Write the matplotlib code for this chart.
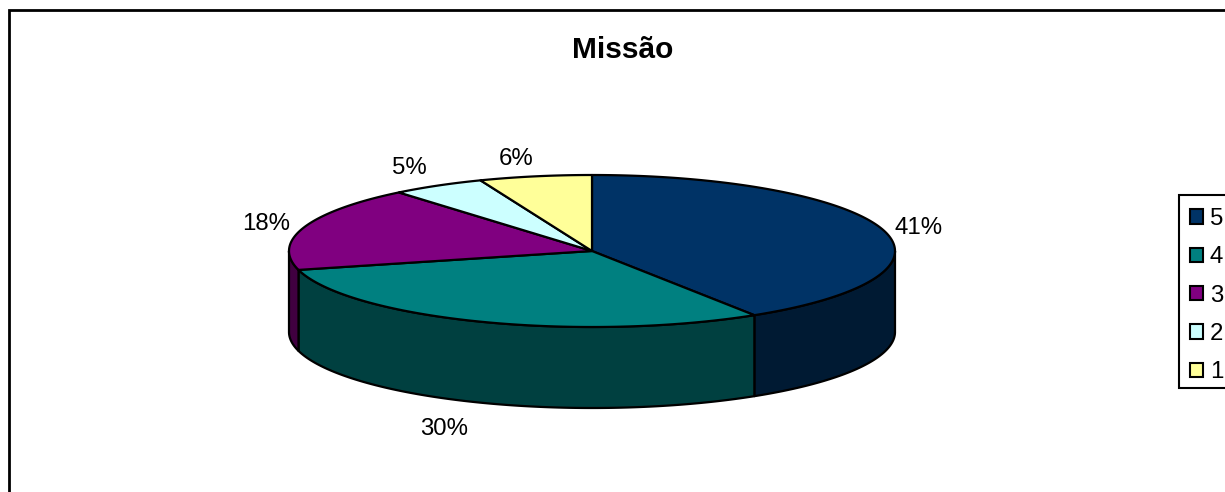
import numpy as np
import matplotlib
matplotlib.use("Agg")
import matplotlib.pyplot as plt
from matplotlib.patches import Polygon, Patch, Rectangle

title = "Missão"
categories = ["5", "4", "3", "2", "1"]
values = [41, 30, 18, 5, 6]
labels = ["41%", "30%", "18%", "5%", "6%"]
top_colors = ["#003366", "#008080", "#800080", "#CCFFFF", "#FFFF99"]
side_colors = ["#001A33", "#004040", "#400040", "#668080", "#80804D"]
label_px = [(919, 228), (444, 429), (266, 224), (409, 168), (516, 159)]

W, H = 1225, 492
CX, CY, RX, RY, DEPTH = 592, 251, 303, 76, 81

plt.rcParams["font.family"] = ["Liberation Sans", "DejaVu Sans"]
fig = plt.figure(figsize=(W / 100, H / 100), dpi=100)
ax = fig.add_axes([0, 0, 1, 1])
ax.set_xlim(0, W)
ax.set_ylim(H, 0)
ax.axis("off")

LW = 1.6


def rim(a0, a1, dy=0.0):
    t = np.radians(np.linspace(a0, a1, max(int(abs(a1 - a0)) * 3, 2)))
    return np.column_stack([CX + RX * np.sin(t), CY + dy - RY * np.cos(t)])


fractions = np.array(values, dtype=float) / sum(values)
edges = np.concatenate([[0], np.cumsum(fractions) * 360])

# chart frame, running off the right and bottom of the picture
ax.add_patch(Rectangle((9, 10), W + 20, H + 20, fc="white", ec="black", lw=2, zorder=0))

# side walls of the front half
for i in range(len(values)):
    a0, a1 = max(edges[i], 90), min(edges[i + 1], 270)
    if a1 > a0:
        upper = rim(a0, a1)
        lower = rim(a1, a0, DEPTH)
        ax.add_patch(Polygon(np.vstack([upper, lower]), closed=True, fc=side_colors[i],
                             ec="black", lw=LW, joinstyle="round", zorder=2))

# top face
for i in range(len(values)):
    pts = np.vstack([[CX, CY], rim(edges[i], edges[i + 1])])
    ax.add_patch(Polygon(pts, closed=True, fc=top_colors[i], ec="black", lw=LW,
                         joinstyle="round", zorder=3))

for lab, (x, y) in zip(labels, label_px):
    ax.text(x, y, lab, ha="center", va="center", fontsize=17.3, color="black")

ax.text(623, 50, title, ha="center", va="center", fontsize=21.5, fontweight="bold", color="black")

# legend box runs off the right edge of the picture
ax.add_patch(Rectangle((1179, 195), 80, 193, fc="white", ec="black", lw=1.5, zorder=1))
handles = [Patch(fc=c, ec="black", lw=1.5) for c in top_colors]
leg = ax.legend(handles, categories, loc="upper left", bbox_to_anchor=(1190, 208),
                bbox_transform=ax.transData, fontsize=17.3, frameon=False,
                handlelength=0.54, handleheight=0.54, handletextpad=0.28,
                labelspacing=0.68, borderpad=0, borderaxespad=0, labelcolor="black")

fig.savefig("out.png", dpi=100, facecolor="white")
